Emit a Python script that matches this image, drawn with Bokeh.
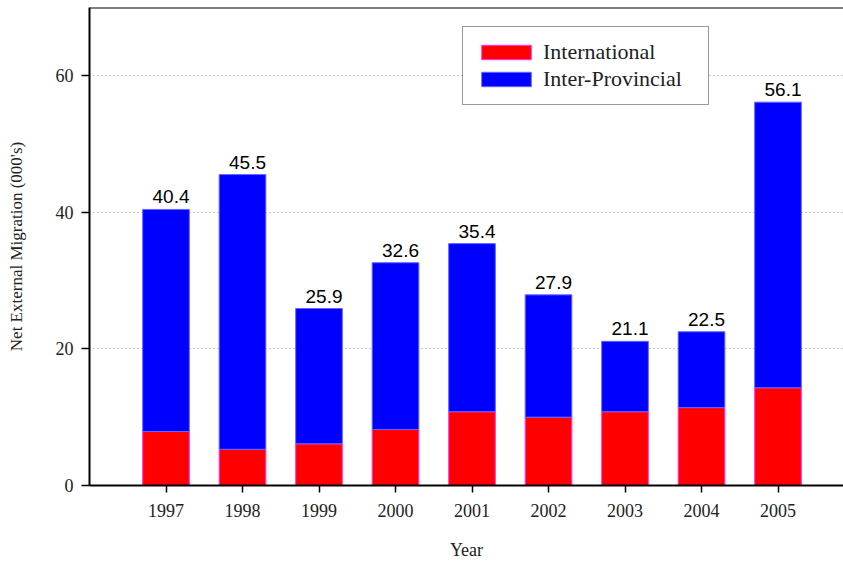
from bokeh.plotting import figure
from bokeh.models import Range1d, FixedTicker, Span, ColumnDataSource
from bokeh.core.properties import value
from bokeh.embed import file_html
from bokeh.resources import INLINE

years = [1997, 1998, 1999, 2000, 2001, 2002, 2003, 2004, 2005]
international = [7.9, 5.3, 6.1, 8.2, 10.8, 10.0, 10.8, 11.4, 14.3]
inter_provincial = [32.5, 40.2, 19.8, 24.4, 24.6, 17.9, 10.3, 11.1, 41.8]
totals = [40.4, 45.5, 25.9, 32.6, 35.4, 27.9, 21.1, 22.5, 56.1]
total_labels = ["40.4", "45.5", "25.9", "32.6", "35.4", "27.9", "21.1", "22.5", "56.1"]
series_names = ["International", "Inter-Provincial"]
y_ticks = [0, 20, 40, 60]

src = ColumnDataSource(dict(year=years, international=international,
                            inter_provincial=inter_provincial,
                            total=totals, label=total_labels))

Y_END = 69.95
p = figure(width=843, height=562, output_backend="svg", toolbar_location=None,
           x_range=Range1d(1996, 2005.856), y_range=Range1d(0, Y_END),
           min_border_left=89, min_border_right=0, min_border_top=7, min_border_bottom=77)
p.outline_line_color = None
p.background_fill_color = "white"
p.border_fill_color = "white"

p.vbar_stack(["international", "inter_provincial"], x="year", width=0.61, source=src,
             fill_color=["#ff0000", "#0000ff"], line_color=["#ff33ff", "#6666ff"],
             line_width=1, legend_label=series_names)

p.text(x="year", y="total", text="label", source=src, text_align="center",
       text_baseline="bottom", x_offset=5, y_offset=-6,
       text_font=value("Liberation Sans"), text_font_size="19px", text_color="black")

p.add_layout(Span(location=Y_END, dimension="width", line_color="black", line_width=2))

serif = "Liberation Serif"
p.xaxis.ticker = FixedTicker(ticks=years)
p.xaxis.minor_tick_line_color = None
p.xaxis.major_tick_in = 0
p.xaxis.major_tick_out = 7
p.xaxis.major_label_standoff = 11
p.xaxis.axis_label = "Year"
p.xaxis.axis_label_standoff = 20
p.yaxis.ticker = FixedTicker(ticks=y_ticks)
p.yaxis.minor_tick_line_color = None
p.yaxis.major_tick_in = 0
p.yaxis.major_tick_out = 8
p.yaxis.major_label_standoff = 8
p.yaxis.axis_label = "Net External Migration (000's)"
p.yaxis.axis_label_standoff = 27
for ax in (p.xaxis, p.yaxis):
    ax.axis_line_color = "black"
    ax.axis_line_width = 2
    ax.major_tick_line_color = "black"
    ax.major_tick_line_width = 1.5
    ax.major_label_text_font = serif
    ax.major_label_text_font_size = "18px"
    ax.major_label_text_color = "#222222"
    ax.axis_label_text_font = serif
    ax.axis_label_text_font_style = "normal"
    ax.axis_label_text_color = "#222222"
p.xaxis.axis_label_text_font_size = "18px"
p.yaxis.axis_label_text_font_size = "17px"

p.xgrid.grid_line_color = None
p.ygrid.ticker = FixedTicker(ticks=y_ticks[1:])
p.ygrid.grid_line_color = "#999999"
p.ygrid.grid_line_dash = "1 3"
p.ygrid.grid_line_width = 1

lg = p.legend[0]
lg.location = (373, 380)
lg.orientation = "vertical"
lg.border_line_color = "#333333"
lg.border_line_width = 1.5
lg.background_fill_color = "white"
lg.background_fill_alpha = 1
lg.padding = 12
lg.spacing = 1
lg.margin = 0
lg.glyph_width = 62
lg.glyph_height = 18
lg.label_height = 22
lg.label_width = 153
lg.label_standoff = 6
lg.label_text_font = serif
lg.label_text_font_size = "22px"
lg.label_text_color = "#222222"

open("out.html", "w").write(file_html(p, INLINE))
